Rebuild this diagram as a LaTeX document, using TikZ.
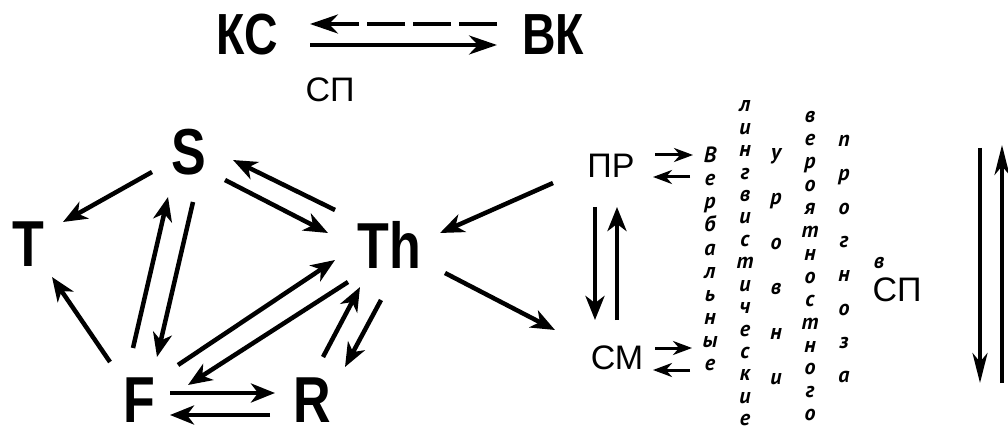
\documentclass[tikz,border=0pt]{standalone}
\usepackage{fontspec}
\setmainfont{Liberation Sans}
\newfontfamily\bsf{Liberation Sans}[FakeStretch=0.8]
\newfontfamily\ptit{PT Sans}
\usetikzlibrary{arrows.meta,calc}
\begin{document}
\begin{tikzpicture}[x=1pt,y=-1pt,
  big/.style={inner sep=0pt, font={\bsf\bfseries\fontsize{65pt}{65pt}\selectfont}},
  top/.style={inner sep=0pt, font={\bsf\bfseries\fontsize{58pt}{58pt}\selectfont}},
  mid/.style={inner sep=0pt, font={\fontsize{34pt}{34pt}\selectfont}},
  vl/.style={inner sep=0pt, anchor=base, font={\ptit\bfseries\itshape\fontsize{22pt}{22pt}\selectfont}},
  arr/.style={line width=4.5pt, -{Stealth[length=24pt,width=19pt,inset=7pt]}},
  sarr/.style={line width=3pt, -{Stealth[length=19pt,width=14pt,inset=6pt]}},
  tarr/.style={line width=4pt, -{Stealth[length=28pt,width=19pt,inset=9pt]}},
  varr/.style={line width=4pt, -{Stealth[length=30pt,width=15pt,inset=9pt]}}]
\useasboundingbox (0,0) rectangle (1008,430);
% top
\node[top] (KS) at (247,35) {КС};
\node[top] (VK) at (553,35) {ВК};
\node[mid] (SPt) at (330,90) {СП};
\draw[tarr, dash pattern=on 38pt off 8pt] ($(VK)+(-56,-11)$) -- ($(KS)+(63,-11)$);
\draw[tarr] ($(KS)+(63,10)$) -- ($(VK)+(-56,10)$);
% graph
\node[big] (S) at (189,152) {S};
\node[big] (T) at (28,244) {T};
\node[big] (Th) at (389,245) {Th};
\node[big] (F) at (139,400) {F};
\node[big] (R) at (312,400) {R};
\draw[arr] ($(S)+(-37,20)$) -- ($(T)+(35,-22)$);
\draw[arr] ($(F)+(-29,-38)$) -- ($(T)+(24,33)$);
\draw[arr] ($(F)+(-6,-52)$) -- ($(S)+(-21,45)$);
\draw[arr] ($(S)+(4,50)$) -- ($(F)+(18,-43)$);
\draw[arr] ($(S)+(36,28)$) -- ($(Th)+(-61,-12)$);
\draw[arr] ($(Th)+(-54,-35)$) -- ($(S)+(44,8)$);
\draw[arr] ($(F)+(39,-35)$) -- ($(Th)+(-54,15)$);
\draw[arr] ($(Th)+(-41,37)$) -- ($(F)+(49,-15)$);
\draw[arr] ($(R)+(11,-43)$) -- ($(Th)+(-29,42)$);
\draw[arr] ($(Th)+(-8,55)$) -- ($(R)+(33,-33)$);
\draw[arr] ($(F)+(31,-7)$) -- ($(R)+(-37,-7)$);
\draw[arr] ($(R)+(-42,15)$) -- ($(F)+(31,15)$);
% right part
\node[mid] (PR) at (611,166) {ПР};
\node[mid] (SM) at (617,358) {СМ};
\draw[arr] ($(PR)+(-58,17)$) -- ($(Th)+(51,-12)$);
\draw[arr] ($(Th)+(56,28)$) -- ($(SM)+(-62,-28)$);
\draw[arr] ($(PR)+(-16,41)$) -- ($(SM)+(-22,-38)$);
\draw[arr] ($(SM)+(0,-38)$) -- ($(PR)+(6,41)$);
\draw[sarr] ($(PR)+(44,-11)$) -- ($(PR)+(82,-11)$);
\draw[sarr] ($(PR)+(79,11)$) -- ($(PR)+(42,11)$);
\draw[sarr] ($(SM)+(38,-10)$) -- ($(SM)+(75,-10)$);
\draw[sarr] ($(SM)+(73,12)$) -- ($(SM)+(36,12)$);
% columns
\foreach \l [count=\i from 0] in {В,е,р,б,а,л,ь,н,ы,е}
  \node[vl] (ca\i) at (710,{163+23*\i}) {\l};
\foreach \l [count=\i from 0] in {л,и,н,г,в,и,с,т,и,ч,е,с,к,и,е}
  \node[vl] (cb\i) at (745,{112+22.4*\i}) {\l};
\foreach \l [count=\i from 0] in {у,р,о,в,н,и}
  \node[vl] (cc\i) at (776,{160+44.8*\i}) {\l};
\foreach \l [count=\i from 0] in {в,е,р,о,я,т,н,о,с,т,н,о,г,о}
  \node[vl] (cd\i) at (810,{123+22.9*\i}) {\l};
\foreach \l [count=\i from 0] in {п,р,о,г,н,о,з,а}
  \node[vl] (ce\i) at (844,{147+33.6*\i}) {\l};
\node[vl] (vv) at (879,268) {в};
\node[mid] (SPr) at (897,290) {СП};
\coordinate (d1) at (980,148);
\coordinate (d2) at (980,383);
\coordinate (u1) at (1002,383);
\coordinate (u2) at (1002,145);
\draw[varr] (d1) -- (d2);
\draw[varr] (u1) -- (u2);
\end{tikzpicture}
\end{document}
